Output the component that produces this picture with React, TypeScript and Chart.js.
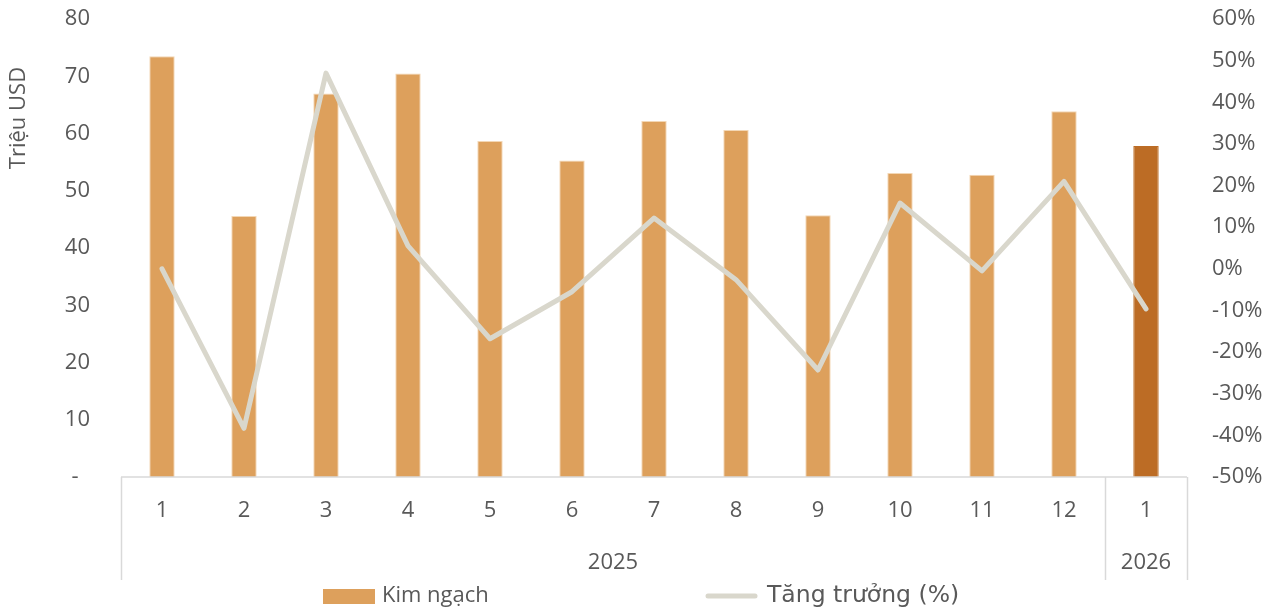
import React, { useEffect, useRef } from "react";
import { Chart, registerables } from "chart.js";

Chart.register(...registerables);

const months = ["1", "2", "3", "4", "5", "6", "7", "8", "9", "10", "11", "12", "1"];
const years = [
  { label: "2025", from: 0, to: 11 },
  { label: "2026", from: 12, to: 12 },
];
const kimNgach = [73.5, 45.6, 67.0, 70.5, 58.7, 55.3, 62.2, 60.6, 45.7, 53.1, 52.8, 63.9, 57.8];
const tangTruong = [0.0, -38.3, 47.0, 5.5, -16.8, -5.5, 12.2, -2.6, -24.3, 15.8, -0.5, 21.0, -9.6];
const leftTicks = [0, 10, 20, 30, 40, 50, 60, 70, 80];
const rightTicks = [-50, -40, -30, -20, -10, 0, 10, 20, 30, 40, 50, 60];

const BAR = "#DDA05C";
const BAR_DARK = "#BC6C25";
const LINE = "#D9D7CC";
const TEXT = "#595959";
const AXIS = "#D9D9D9";
const FONT = "'Open Sans', 'Noto Sans', sans-serif";
const FONT2 = "'DejaVu Sans', sans-serif";

const customPlugin = {
  id: "customDecor",
  afterDraw(chart: any) {
    const ctx = chart.ctx;
    const x = chart.scales.x;
    const area = chart.chartArea;
    const n = months.length;
    const half = (x.getPixelForValue(1) - x.getPixelForValue(0)) / 2;
    const edge = (i: number) => x.getPixelForValue(i) - half;
    ctx.save();
    ctx.strokeStyle = AXIS;
    ctx.lineWidth = 1.5;
    ctx.beginPath();
    ctx.moveTo(area.left, area.bottom);
    ctx.lineTo(area.right, area.bottom);
    const bounds = [0];
    years.forEach((y) => bounds.push(y.to + 1));
    bounds.forEach((b) => {
      const px = Math.round(edge(b)) + 0.5;
      ctx.moveTo(px, area.bottom);
      ctx.lineTo(px, 580);
    });
    ctx.stroke();

    ctx.fillStyle = TEXT;
    ctx.font = `22px ${FONT}`;
    ctx.textAlign = "center";
    ctx.textBaseline = "middle";
    for (let i = 0; i < n; i++) {
      ctx.fillText(months[i], x.getPixelForValue(i), 511);
    }
    years.forEach((y) => {
      const cx = (edge(y.from) + edge(y.to + 1)) / 2;
      ctx.fillText(y.label, cx, 563);
    });

    ctx.save();
    ctx.translate(19, 118);
    ctx.rotate(-Math.PI / 2);
    ctx.font = `22px ${FONT}`;
    ctx.fillText("Triệu USD", 0, 0);
    ctx.restore();

    ctx.fillStyle = BAR;
    ctx.fillRect(323, 589, 52, 15);
    ctx.fillStyle = TEXT;
    ctx.textAlign = "left";
    ctx.font = `22px ${FONT}`;
    ctx.fillText("Kim ngạch", 382, 596);
    ctx.strokeStyle = LINE;
    ctx.lineWidth = 5;
    ctx.lineCap = "round";
    ctx.beginPath();
    ctx.moveTo(708, 596);
    ctx.lineTo(755, 596);
    ctx.stroke();
    ctx.font = `23.5px ${FONT2}`;
    ctx.fillText("Tăng trưởng (%)", 767, 596);
    ctx.restore();
  },
};

export default function App() {
  const ref = useRef<HTMLCanvasElement>(null);
  useEffect(() => {
    if (!ref.current) return;
    const chart = new Chart(ref.current, {
      type: "bar",
      data: {
        labels: months,
        datasets: [
          {
            type: "line",
            label: "Tăng trưởng (%)",
            data: tangTruong,
            yAxisID: "y1",
            borderColor: LINE,
            backgroundColor: LINE,
            borderWidth: 5,
            pointRadius: 0,
            borderCapStyle: "round",
            borderJoinStyle: "round",
            tension: 0,
            order: 0,
          } as any,
          {
            type: "bar",
            label: "Kim ngạch",
            data: kimNgach,
            yAxisID: "y",
            backgroundColor: kimNgach.map((_, i) => (i === kimNgach.length - 1 ? BAR_DARK : BAR)),
            borderColor: kimNgach.map((_, i) => (i === kimNgach.length - 1 ? BAR_DARK : "#F3D7B5")),
            borderWidth: 1,
            borderSkipped: "bottom",
            barPercentage: 0.31,
            categoryPercentage: 1,
            order: 1,
          } as any,
        ],
      },
      options: {
        animation: false,
        responsive: false,
        maintainAspectRatio: false,
        layout: { padding: { top: 19, left: 0, right: 0, bottom: 0 } },
        plugins: { legend: { display: false }, tooltip: { enabled: false } },
        scales: {
          x: {
            grid: { display: false, drawTicks: false },
            border: { display: false },
            ticks: { display: false },
            afterFit: (s: any) => {
              s.height = 609 - 477;
              s.paddingLeft = 0;
              s.paddingRight = 0;
            },
          },
          y: {
            position: "left",
            min: 0,
            max: 80,
            afterBuildTicks: (s: any) => {
              s.ticks = leftTicks.map((v) => ({ value: v }));
            },
            grid: { display: false, drawTicks: false },
            border: { display: false },
            ticks: {
              padding: 31,
              color: TEXT,
              font: { family: FONT, size: 22 },
              callback: (v: any) => (v === 0 ? "-  " : String(v)),
            },
            afterFit: (s: any) => {
              s.width = 121;
              s.paddingTop = 0;
              s.paddingBottom = 0;
            },
          },
          y1: {
            position: "right",
            min: -50,
            max: 60,
            afterBuildTicks: (s: any) => {
              s.ticks = rightTicks.map((v) => ({ value: v }));
            },
            grid: { display: false, drawTicks: false },
            border: { display: false },
            ticks: {
              padding: 25,
              color: TEXT,
              font: { family: FONT, size: 22 },
              callback: (v: any) => `${v}%`,
            },
            afterFit: (s: any) => {
              s.width = 1271 - 1187;
              s.paddingTop = 0;
              s.paddingBottom = 0;
            },
          },
        },
      },
      plugins: [customPlugin],
    });
    return () => chart.destroy();
  }, []);
  return (
    <div style={{ position: "absolute", left: 0, top: 0, width: 1271, height: 609 }}>
      <canvas ref={ref} width={1271} height={609} style={{ width: 1271, height: 609 }} />
    </div>
  );
}
